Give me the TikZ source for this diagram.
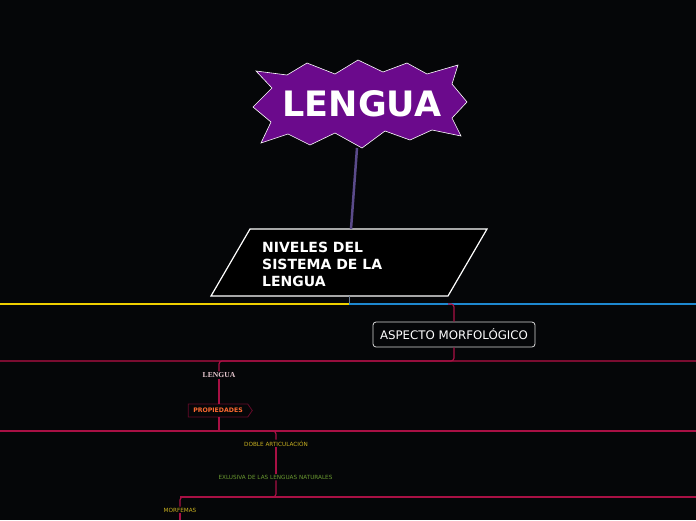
\documentclass[tikz,border=0pt]{standalone}
\usepackage{fontspec}
\setmainfont{DejaVu Sans}
\newfontfamily\serifb{Liberation Serif}
\usetikzlibrary{shapes.symbols,shapes.arrows}
\definecolor{bg}{HTML}{050608}
\definecolor{burst}{HTML}{6B0A8C}
\definecolor{linkp}{HTML}{5A4A8A}
\definecolor{ylw}{HTML}{F0D000}
\definecolor{blu}{HTML}{1E88D0}
\definecolor{mar}{HTML}{7A0C30}
\definecolor{crim}{HTML}{A81044}
\definecolor{pinkt}{HTML}{E8C8D0}
\definecolor{orng}{HTML}{FF6A30}
\definecolor{olv}{HTML}{C8B020}
\definecolor{grn}{HTML}{6A9A30}
\definecolor{greyb}{HTML}{6A7A90}
\tikzset{
  band/.style={line width=1.2pt},
  conn/.style={crim,line width=1.2pt,rounded corners=3pt},
  small/.style={inner sep=1pt,font=\fontsize{5.7}{6.5}\selectfont},
}
\begin{document}
\begin{tikzpicture}[x=1pt,y=-1pt]
\fill[bg] (0,0) rectangle (696,520);
\useasboundingbox (0,0) rectangle (696,520);
% starburst
\draw[fill=burst,draw=white,line width=0.6pt,line join=miter]
 (256,71)--(287,75)--(307,63)--(335,74)--(358,60)--(383,72)--(407,63)--(427,74)--(458,65)
 --(452,84)--(467,102)--(452,118)--(461,136)--(432,130)--(410,140)--(385,131)--(362,148)
 --(335,133)--(310,145)--(288,134)--(261,143)--(271,122)--(253,107)--(272,88)--cycle;
\node[text=white,font=\fontsize{35}{40}\selectfont\bfseries] (lengua) at (362,104) {LENGUA};
\coordinate (bb) at (357,148);
% parallelogram
\draw[fill=black,draw=white,line width=1.2pt] (250,229)--(487,229)--(448,296)--(211,296)--cycle;
\coordinate (pt) at (351,229);
\coordinate (pb) at (349,296);
\draw[linkp,line width=2.5pt] (bb) -- (pt);
\node[anchor=west,align=left,text=white,font=\fontsize{14}{17}\selectfont\bfseries,inner sep=0pt] (niv) at (262,264) {NIVELES DEL\\SISTEMA DE LA\\LENGUA};
% bands
\coordinate (j) at (349,304);
\draw[greyb,line width=1pt] (pb) -- (j);
\draw[ylw,band] (0,304) -- (j);
\draw[blu,band] (j) -- (696,304);
% aspecto
\node[draw=white!85!black,rounded corners=3pt,line width=0.8pt,text=white,font=\fontsize{11.8}{13}\selectfont,minimum height=25pt,inner xsep=7pt] (asp) at (454,334.5) {ASPECTO MORFOLÓGICO};
\draw[conn] (448,304) -| (asp.north);
\draw[mar,band] (0,361) -- (696,361);
\node[text=pinkt,font=\serifb\fontsize{7.6}{8}\selectfont\bfseries,inner sep=1pt] (len2) at (219,375) {LENGUA};
\draw[conn] (asp.south) |- (300,361) -| (len2.north);
% propiedades
\node[signal,signal to=east,signal pointer angle=110,draw=crim!60!black,fill=bg,line width=0.8pt,text=orng,font=\fontsize{6.2}{7}\selectfont\bfseries,inner xsep=5pt,inner ysep=3pt,minimum height=13pt] (prop) at (218,410.5) {PROPIEDADES};
\draw[conn] (len2.south) -- (prop.north -| len2.south);
\draw[crim,band] (0,431) -- (696,431);
\draw[conn] (prop.south -| len2.south) -- (219,431);
\node[small,text=olv] (doble) at (276,443.5) {DOBLE ARTICULACIÓN};
\draw[conn] (219,431) -| (doble.north);
\node[small,text=grn] (excl) at (275.5,477) {EXLUSIVA DE LAS LENGUAS NATURALES};
\draw[conn] (doble.south) -- (excl.north -| doble.south);
\draw[crim,band] (180,497) -- (696,497);
\node[small,text=olv] (morf) at (180,510) {MORFEMAS};
\draw[conn] (excl.south -| doble.south) -- (276,497) -| (morf.north);
\coordinate (mend) at (180,520);
\draw[conn] (morf.south) -- (mend);
\end{tikzpicture}
\end{document}
